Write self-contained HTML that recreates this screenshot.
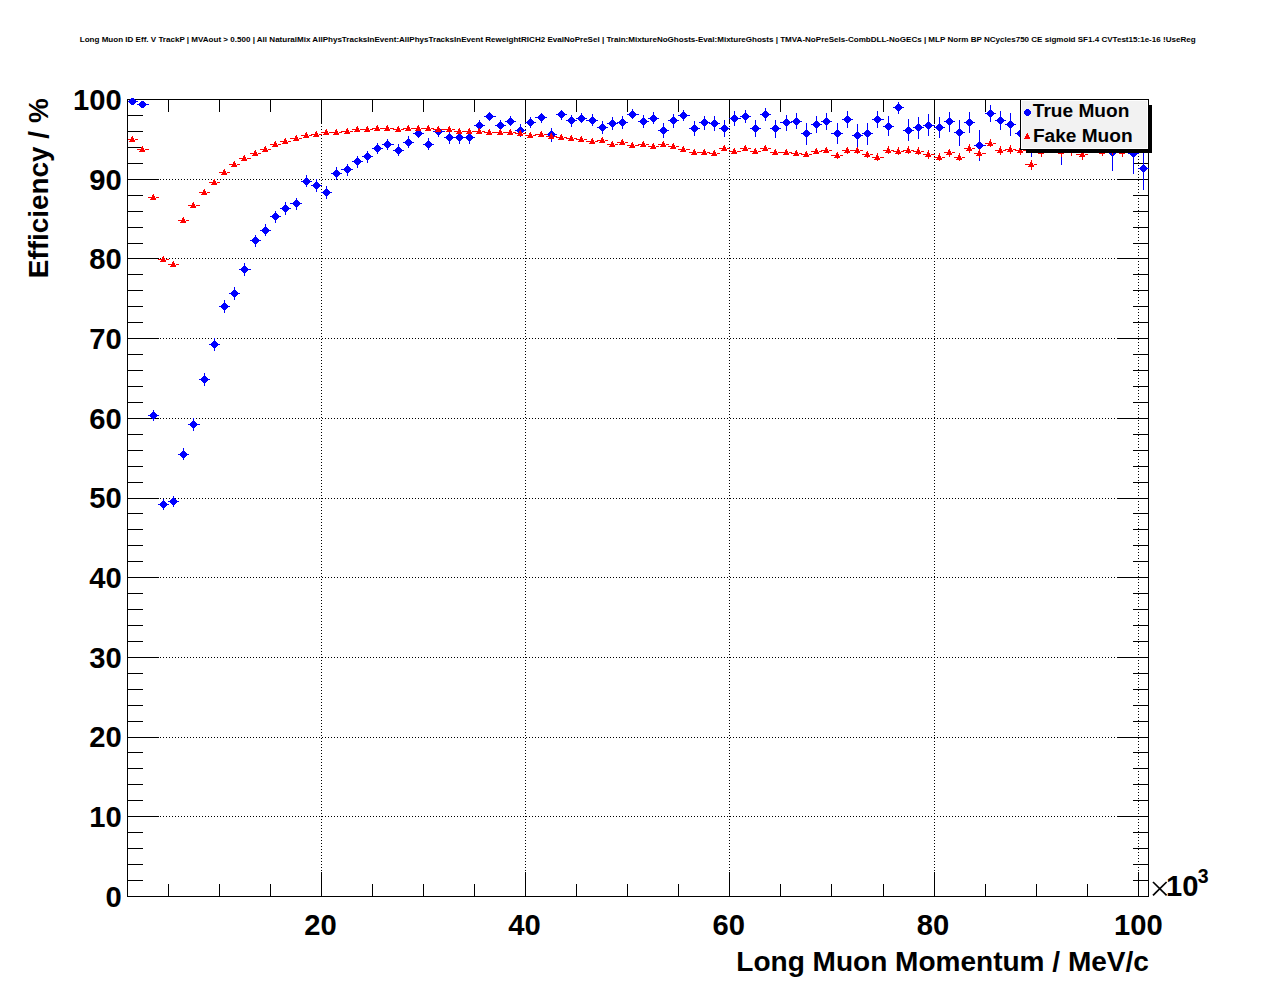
<!DOCTYPE html>
<html><head><meta charset="utf-8"><title>Long Muon ID Eff. V TrackP</title>
<style>html,body{margin:0;padding:0;background:#fff;}body{width:1276px;height:996px;overflow:hidden;font-family:"Liberation Sans",sans-serif;}svg{display:block;}text{font-family:"Liberation Sans",sans-serif;font-weight:bold;fill:#000;}</style></head><body>
<svg width="1276" height="996" viewBox="0 0 1276 996" role="img" aria-label="Efficiency versus Long Muon Momentum for True Muon and Fake Muon">
<rect x="0" y="0" width="1276" height="996" fill="#ffffff"/>
<g shape-rendering="crispEdges" stroke="#000" stroke-width="1" stroke-dasharray="1 2" fill="none">
<line x1="321.5" y1="99" x2="321.5" y2="897"/>
<line x1="525.5" y1="99" x2="525.5" y2="897"/>
<line x1="729.5" y1="99" x2="729.5" y2="897"/>
<line x1="934.5" y1="99" x2="934.5" y2="897"/>
<line x1="1138.5" y1="99" x2="1138.5" y2="897"/>
<line x1="127" y1="816.5" x2="1149" y2="816.5"/>
<line x1="127" y1="737.5" x2="1149" y2="737.5"/>
<line x1="127" y1="657.5" x2="1149" y2="657.5"/>
<line x1="127" y1="577.5" x2="1149" y2="577.5"/>
<line x1="127" y1="498.5" x2="1149" y2="498.5"/>
<line x1="127" y1="418.5" x2="1149" y2="418.5"/>
<line x1="127" y1="338.5" x2="1149" y2="338.5"/>
<line x1="127" y1="258.5" x2="1149" y2="258.5"/>
<line x1="127" y1="179.5" x2="1149" y2="179.5"/>
</g>
<g shape-rendering="crispEdges" fill="#000">
<rect x="127" y="99" width="1022" height="1"/>
<rect x="127" y="896" width="1022" height="1"/>
<rect x="127" y="99" width="1" height="798"/>
<rect x="1148" y="99" width="1" height="798"/>
<rect x="168" y="884" width="1" height="12"/>
<rect x="168" y="100" width="1" height="12"/>
<rect x="219" y="884" width="1" height="12"/>
<rect x="219" y="100" width="1" height="12"/>
<rect x="270" y="884" width="1" height="12"/>
<rect x="270" y="100" width="1" height="12"/>
<rect x="321" y="872" width="1" height="24"/>
<rect x="321" y="100" width="1" height="24"/>
<rect x="372" y="884" width="1" height="12"/>
<rect x="372" y="100" width="1" height="12"/>
<rect x="423" y="884" width="1" height="12"/>
<rect x="423" y="100" width="1" height="12"/>
<rect x="474" y="884" width="1" height="12"/>
<rect x="474" y="100" width="1" height="12"/>
<rect x="525" y="872" width="1" height="24"/>
<rect x="525" y="100" width="1" height="24"/>
<rect x="576" y="884" width="1" height="12"/>
<rect x="576" y="100" width="1" height="12"/>
<rect x="627" y="884" width="1" height="12"/>
<rect x="627" y="100" width="1" height="12"/>
<rect x="678" y="884" width="1" height="12"/>
<rect x="678" y="100" width="1" height="12"/>
<rect x="729" y="872" width="1" height="24"/>
<rect x="729" y="100" width="1" height="24"/>
<rect x="780" y="884" width="1" height="12"/>
<rect x="780" y="100" width="1" height="12"/>
<rect x="831" y="884" width="1" height="12"/>
<rect x="831" y="100" width="1" height="12"/>
<rect x="883" y="884" width="1" height="12"/>
<rect x="883" y="100" width="1" height="12"/>
<rect x="934" y="872" width="1" height="24"/>
<rect x="934" y="100" width="1" height="24"/>
<rect x="985" y="884" width="1" height="12"/>
<rect x="985" y="100" width="1" height="12"/>
<rect x="1036" y="884" width="1" height="12"/>
<rect x="1036" y="100" width="1" height="12"/>
<rect x="1087" y="884" width="1" height="12"/>
<rect x="1087" y="100" width="1" height="12"/>
<rect x="1138" y="872" width="1" height="24"/>
<rect x="1138" y="100" width="1" height="24"/>
<rect x="128" y="880" width="15" height="1"/>
<rect x="1133" y="880" width="15" height="1"/>
<rect x="128" y="864" width="15" height="1"/>
<rect x="1133" y="864" width="15" height="1"/>
<rect x="128" y="848" width="15" height="1"/>
<rect x="1133" y="848" width="15" height="1"/>
<rect x="128" y="832" width="15" height="1"/>
<rect x="1133" y="832" width="15" height="1"/>
<rect x="128" y="816" width="31" height="1"/>
<rect x="1117" y="816" width="31" height="1"/>
<rect x="128" y="800" width="15" height="1"/>
<rect x="1133" y="800" width="15" height="1"/>
<rect x="128" y="784" width="15" height="1"/>
<rect x="1133" y="784" width="15" height="1"/>
<rect x="128" y="768" width="15" height="1"/>
<rect x="1133" y="768" width="15" height="1"/>
<rect x="128" y="752" width="15" height="1"/>
<rect x="1133" y="752" width="15" height="1"/>
<rect x="128" y="737" width="31" height="1"/>
<rect x="1117" y="737" width="31" height="1"/>
<rect x="128" y="721" width="15" height="1"/>
<rect x="1133" y="721" width="15" height="1"/>
<rect x="128" y="705" width="15" height="1"/>
<rect x="1133" y="705" width="15" height="1"/>
<rect x="128" y="689" width="15" height="1"/>
<rect x="1133" y="689" width="15" height="1"/>
<rect x="128" y="673" width="15" height="1"/>
<rect x="1133" y="673" width="15" height="1"/>
<rect x="128" y="657" width="31" height="1"/>
<rect x="1117" y="657" width="31" height="1"/>
<rect x="128" y="641" width="15" height="1"/>
<rect x="1133" y="641" width="15" height="1"/>
<rect x="128" y="625" width="15" height="1"/>
<rect x="1133" y="625" width="15" height="1"/>
<rect x="128" y="609" width="15" height="1"/>
<rect x="1133" y="609" width="15" height="1"/>
<rect x="128" y="593" width="15" height="1"/>
<rect x="1133" y="593" width="15" height="1"/>
<rect x="128" y="577" width="31" height="1"/>
<rect x="1117" y="577" width="31" height="1"/>
<rect x="128" y="561" width="15" height="1"/>
<rect x="1133" y="561" width="15" height="1"/>
<rect x="128" y="545" width="15" height="1"/>
<rect x="1133" y="545" width="15" height="1"/>
<rect x="128" y="529" width="15" height="1"/>
<rect x="1133" y="529" width="15" height="1"/>
<rect x="128" y="513" width="15" height="1"/>
<rect x="1133" y="513" width="15" height="1"/>
<rect x="128" y="498" width="31" height="1"/>
<rect x="1117" y="498" width="31" height="1"/>
<rect x="128" y="482" width="15" height="1"/>
<rect x="1133" y="482" width="15" height="1"/>
<rect x="128" y="466" width="15" height="1"/>
<rect x="1133" y="466" width="15" height="1"/>
<rect x="128" y="450" width="15" height="1"/>
<rect x="1133" y="450" width="15" height="1"/>
<rect x="128" y="434" width="15" height="1"/>
<rect x="1133" y="434" width="15" height="1"/>
<rect x="128" y="418" width="31" height="1"/>
<rect x="1117" y="418" width="31" height="1"/>
<rect x="128" y="402" width="15" height="1"/>
<rect x="1133" y="402" width="15" height="1"/>
<rect x="128" y="386" width="15" height="1"/>
<rect x="1133" y="386" width="15" height="1"/>
<rect x="128" y="370" width="15" height="1"/>
<rect x="1133" y="370" width="15" height="1"/>
<rect x="128" y="354" width="15" height="1"/>
<rect x="1133" y="354" width="15" height="1"/>
<rect x="128" y="338" width="31" height="1"/>
<rect x="1117" y="338" width="31" height="1"/>
<rect x="128" y="322" width="15" height="1"/>
<rect x="1133" y="322" width="15" height="1"/>
<rect x="128" y="306" width="15" height="1"/>
<rect x="1133" y="306" width="15" height="1"/>
<rect x="128" y="290" width="15" height="1"/>
<rect x="1133" y="290" width="15" height="1"/>
<rect x="128" y="274" width="15" height="1"/>
<rect x="1133" y="274" width="15" height="1"/>
<rect x="128" y="258" width="31" height="1"/>
<rect x="1117" y="258" width="31" height="1"/>
<rect x="128" y="243" width="15" height="1"/>
<rect x="1133" y="243" width="15" height="1"/>
<rect x="128" y="227" width="15" height="1"/>
<rect x="1133" y="227" width="15" height="1"/>
<rect x="128" y="211" width="15" height="1"/>
<rect x="1133" y="211" width="15" height="1"/>
<rect x="128" y="195" width="15" height="1"/>
<rect x="1133" y="195" width="15" height="1"/>
<rect x="128" y="179" width="31" height="1"/>
<rect x="1117" y="179" width="31" height="1"/>
<rect x="128" y="163" width="15" height="1"/>
<rect x="1133" y="163" width="15" height="1"/>
<rect x="128" y="147" width="15" height="1"/>
<rect x="1133" y="147" width="15" height="1"/>
<rect x="128" y="131" width="15" height="1"/>
<rect x="1133" y="131" width="15" height="1"/>
<rect x="128" y="115" width="15" height="1"/>
<rect x="1133" y="115" width="15" height="1"/>
</g>
<g shape-rendering="crispEdges" fill="#0000ff">
<rect x="128" y="101" width="10" height="1"/><rect x="131" y="98" width="3" height="7"/><rect x="130" y="99" width="5" height="5"/><rect x="129" y="100" width="7" height="3"/>
<rect x="137" y="104" width="12" height="1"/><rect x="141" y="101" width="3" height="7"/><rect x="140" y="102" width="5" height="5"/><rect x="139" y="103" width="7" height="3"/>
<rect x="148" y="415" width="11" height="1"/><rect x="153" y="410" width="1" height="11"/><rect x="152" y="412" width="3" height="7"/><rect x="151" y="413" width="5" height="5"/><rect x="150" y="414" width="7" height="3"/>
<rect x="158" y="504" width="11" height="1"/><rect x="163" y="499" width="1" height="11"/><rect x="162" y="501" width="3" height="7"/><rect x="161" y="502" width="5" height="5"/><rect x="160" y="503" width="7" height="3"/>
<rect x="168" y="501" width="11" height="1"/><rect x="173" y="496" width="1" height="11"/><rect x="172" y="498" width="3" height="7"/><rect x="171" y="499" width="5" height="5"/><rect x="170" y="500" width="7" height="3"/>
<rect x="178" y="454" width="11" height="1"/><rect x="183" y="448" width="1" height="12"/><rect x="182" y="451" width="3" height="7"/><rect x="181" y="452" width="5" height="5"/><rect x="180" y="453" width="7" height="3"/>
<rect x="188" y="424" width="12" height="1"/><rect x="193" y="418" width="1" height="13"/><rect x="192" y="421" width="3" height="7"/><rect x="191" y="422" width="5" height="5"/><rect x="190" y="423" width="7" height="3"/>
<rect x="199" y="379" width="11" height="1"/><rect x="204" y="373" width="1" height="13"/><rect x="203" y="376" width="3" height="7"/><rect x="202" y="377" width="5" height="5"/><rect x="201" y="378" width="7" height="3"/>
<rect x="209" y="344" width="11" height="1"/><rect x="214" y="338" width="1" height="13"/><rect x="213" y="341" width="3" height="7"/><rect x="212" y="342" width="5" height="5"/><rect x="211" y="343" width="7" height="3"/>
<rect x="219" y="306" width="11" height="1"/><rect x="224" y="300" width="1" height="13"/><rect x="223" y="303" width="3" height="7"/><rect x="222" y="304" width="5" height="5"/><rect x="221" y="305" width="7" height="3"/>
<rect x="229" y="293" width="11" height="1"/><rect x="234" y="287" width="1" height="13"/><rect x="233" y="290" width="3" height="7"/><rect x="232" y="291" width="5" height="5"/><rect x="231" y="292" width="7" height="3"/>
<rect x="239" y="269" width="12" height="1"/><rect x="244" y="263" width="1" height="13"/><rect x="243" y="266" width="3" height="7"/><rect x="242" y="267" width="5" height="5"/><rect x="241" y="268" width="7" height="3"/>
<rect x="250" y="240" width="11" height="1"/><rect x="255" y="235" width="1" height="12"/><rect x="254" y="237" width="3" height="7"/><rect x="253" y="238" width="5" height="5"/><rect x="252" y="239" width="7" height="3"/>
<rect x="260" y="230" width="11" height="1"/><rect x="265" y="224" width="1" height="12"/><rect x="264" y="227" width="3" height="7"/><rect x="263" y="228" width="5" height="5"/><rect x="262" y="229" width="7" height="3"/>
<rect x="270" y="216" width="11" height="1"/><rect x="275" y="211" width="1" height="12"/><rect x="274" y="213" width="3" height="7"/><rect x="273" y="214" width="5" height="5"/><rect x="272" y="215" width="7" height="3"/>
<rect x="280" y="208" width="11" height="1"/><rect x="285" y="202" width="1" height="13"/><rect x="284" y="205" width="3" height="7"/><rect x="283" y="206" width="5" height="5"/><rect x="282" y="207" width="7" height="3"/>
<rect x="290" y="203" width="12" height="1"/><rect x="296" y="198" width="1" height="12"/><rect x="295" y="200" width="3" height="7"/><rect x="294" y="201" width="5" height="5"/><rect x="293" y="202" width="7" height="3"/>
<rect x="301" y="181" width="11" height="1"/><rect x="306" y="175" width="1" height="12"/><rect x="305" y="178" width="3" height="7"/><rect x="304" y="179" width="5" height="5"/><rect x="303" y="180" width="7" height="3"/>
<rect x="311" y="185" width="11" height="1"/><rect x="316" y="179" width="1" height="13"/><rect x="315" y="182" width="3" height="7"/><rect x="314" y="183" width="5" height="5"/><rect x="313" y="184" width="7" height="3"/>
<rect x="321" y="192" width="11" height="1"/><rect x="326" y="186" width="1" height="13"/><rect x="325" y="189" width="3" height="7"/><rect x="324" y="190" width="5" height="5"/><rect x="323" y="191" width="7" height="3"/>
<rect x="331" y="173" width="11" height="1"/><rect x="336" y="167" width="1" height="13"/><rect x="335" y="170" width="3" height="7"/><rect x="334" y="171" width="5" height="5"/><rect x="333" y="172" width="7" height="3"/>
<rect x="341" y="169" width="12" height="1"/><rect x="347" y="164" width="1" height="12"/><rect x="346" y="166" width="3" height="7"/><rect x="345" y="167" width="5" height="5"/><rect x="344" y="168" width="7" height="3"/>
<rect x="352" y="161" width="11" height="1"/><rect x="357" y="156" width="1" height="12"/><rect x="356" y="158" width="3" height="7"/><rect x="355" y="159" width="5" height="5"/><rect x="354" y="160" width="7" height="3"/>
<rect x="362" y="156" width="11" height="1"/><rect x="367" y="151" width="1" height="12"/><rect x="366" y="153" width="3" height="7"/><rect x="365" y="154" width="5" height="5"/><rect x="364" y="155" width="7" height="3"/>
<rect x="372" y="148" width="11" height="1"/><rect x="377" y="143" width="1" height="11"/><rect x="376" y="145" width="3" height="7"/><rect x="375" y="146" width="5" height="5"/><rect x="374" y="147" width="7" height="3"/>
<rect x="382" y="144" width="12" height="1"/><rect x="387" y="139" width="1" height="11"/><rect x="386" y="141" width="3" height="7"/><rect x="385" y="142" width="5" height="5"/><rect x="384" y="143" width="7" height="3"/>
<rect x="393" y="150" width="11" height="1"/><rect x="398" y="144" width="1" height="12"/><rect x="397" y="147" width="3" height="7"/><rect x="396" y="148" width="5" height="5"/><rect x="395" y="149" width="7" height="3"/>
<rect x="403" y="142" width="11" height="1"/><rect x="408" y="136" width="1" height="12"/><rect x="407" y="139" width="3" height="7"/><rect x="406" y="140" width="5" height="5"/><rect x="405" y="141" width="7" height="3"/>
<rect x="413" y="133" width="11" height="1"/><rect x="418" y="129" width="1" height="9"/><rect x="417" y="130" width="3" height="7"/><rect x="416" y="131" width="5" height="5"/><rect x="415" y="132" width="7" height="3"/>
<rect x="423" y="144" width="11" height="1"/><rect x="428" y="138" width="1" height="12"/><rect x="427" y="141" width="3" height="7"/><rect x="426" y="142" width="5" height="5"/><rect x="425" y="143" width="7" height="3"/>
<rect x="433" y="131" width="12" height="1"/><rect x="438" y="126" width="1" height="11"/><rect x="437" y="128" width="3" height="7"/><rect x="436" y="129" width="5" height="5"/><rect x="435" y="130" width="7" height="3"/>
<rect x="444" y="137" width="11" height="1"/><rect x="449" y="131" width="1" height="13"/><rect x="448" y="134" width="3" height="7"/><rect x="447" y="135" width="5" height="5"/><rect x="446" y="136" width="7" height="3"/>
<rect x="454" y="137" width="11" height="1"/><rect x="459" y="131" width="1" height="13"/><rect x="458" y="134" width="3" height="7"/><rect x="457" y="135" width="5" height="5"/><rect x="456" y="136" width="7" height="3"/>
<rect x="464" y="137" width="11" height="1"/><rect x="469" y="131" width="1" height="13"/><rect x="468" y="134" width="3" height="7"/><rect x="467" y="135" width="5" height="5"/><rect x="466" y="136" width="7" height="3"/>
<rect x="474" y="125" width="11" height="1"/><rect x="479" y="120" width="1" height="11"/><rect x="478" y="122" width="3" height="7"/><rect x="477" y="123" width="5" height="5"/><rect x="476" y="124" width="7" height="3"/>
<rect x="484" y="116" width="12" height="1"/><rect x="489" y="112" width="1" height="9"/><rect x="488" y="113" width="3" height="7"/><rect x="487" y="114" width="5" height="5"/><rect x="486" y="115" width="7" height="3"/>
<rect x="495" y="125" width="11" height="1"/><rect x="500" y="120" width="1" height="11"/><rect x="499" y="122" width="3" height="7"/><rect x="498" y="123" width="5" height="5"/><rect x="497" y="124" width="7" height="3"/>
<rect x="505" y="121" width="11" height="1"/><rect x="510" y="116" width="1" height="10"/><rect x="509" y="118" width="3" height="7"/><rect x="508" y="119" width="5" height="5"/><rect x="507" y="120" width="7" height="3"/>
<rect x="515" y="130" width="11" height="1"/><rect x="520" y="124" width="1" height="13"/><rect x="519" y="127" width="3" height="7"/><rect x="518" y="128" width="5" height="5"/><rect x="517" y="129" width="7" height="3"/>
<rect x="525" y="122" width="11" height="1"/><rect x="530" y="117" width="1" height="11"/><rect x="529" y="119" width="3" height="7"/><rect x="528" y="120" width="5" height="5"/><rect x="527" y="121" width="7" height="3"/>
<rect x="535" y="117" width="12" height="1"/><rect x="541" y="113" width="1" height="10"/><rect x="540" y="114" width="3" height="7"/><rect x="539" y="115" width="5" height="5"/><rect x="538" y="116" width="7" height="3"/>
<rect x="546" y="134" width="11" height="1"/><rect x="551" y="128" width="1" height="14"/><rect x="550" y="131" width="3" height="7"/><rect x="549" y="132" width="5" height="5"/><rect x="548" y="133" width="7" height="3"/>
<rect x="556" y="114" width="11" height="1"/><rect x="561" y="110" width="1" height="10"/><rect x="560" y="111" width="3" height="7"/><rect x="559" y="112" width="5" height="5"/><rect x="558" y="113" width="7" height="3"/>
<rect x="566" y="120" width="11" height="1"/><rect x="571" y="115" width="1" height="12"/><rect x="570" y="117" width="3" height="7"/><rect x="569" y="118" width="5" height="5"/><rect x="568" y="119" width="7" height="3"/>
<rect x="576" y="118" width="11" height="1"/><rect x="581" y="113" width="1" height="10"/><rect x="580" y="115" width="3" height="7"/><rect x="579" y="116" width="5" height="5"/><rect x="578" y="117" width="7" height="3"/>
<rect x="586" y="120" width="12" height="1"/><rect x="592" y="114" width="1" height="12"/><rect x="591" y="117" width="3" height="7"/><rect x="590" y="118" width="5" height="5"/><rect x="589" y="119" width="7" height="3"/>
<rect x="597" y="127" width="11" height="1"/><rect x="602" y="121" width="1" height="13"/><rect x="601" y="124" width="3" height="7"/><rect x="600" y="125" width="5" height="5"/><rect x="599" y="126" width="7" height="3"/>
<rect x="607" y="123" width="11" height="1"/><rect x="612" y="117" width="1" height="13"/><rect x="611" y="120" width="3" height="7"/><rect x="610" y="121" width="5" height="5"/><rect x="609" y="122" width="7" height="3"/>
<rect x="617" y="122" width="11" height="1"/><rect x="622" y="116" width="1" height="13"/><rect x="621" y="119" width="3" height="7"/><rect x="620" y="120" width="5" height="5"/><rect x="619" y="121" width="7" height="3"/>
<rect x="627" y="114" width="12" height="1"/><rect x="632" y="109" width="1" height="10"/><rect x="631" y="111" width="3" height="7"/><rect x="630" y="112" width="5" height="5"/><rect x="629" y="113" width="7" height="3"/>
<rect x="638" y="121" width="11" height="1"/><rect x="643" y="115" width="1" height="13"/><rect x="642" y="118" width="3" height="7"/><rect x="641" y="119" width="5" height="5"/><rect x="640" y="120" width="7" height="3"/>
<rect x="648" y="118" width="11" height="1"/><rect x="653" y="112" width="1" height="12"/><rect x="652" y="115" width="3" height="7"/><rect x="651" y="116" width="5" height="5"/><rect x="650" y="117" width="7" height="3"/>
<rect x="658" y="130" width="11" height="1"/><rect x="663" y="123" width="1" height="15"/><rect x="662" y="127" width="3" height="7"/><rect x="661" y="128" width="5" height="5"/><rect x="660" y="129" width="7" height="3"/>
<rect x="668" y="120" width="11" height="1"/><rect x="673" y="114" width="1" height="14"/><rect x="672" y="117" width="3" height="7"/><rect x="671" y="118" width="5" height="5"/><rect x="670" y="119" width="7" height="3"/>
<rect x="678" y="115" width="12" height="1"/><rect x="683" y="110" width="1" height="11"/><rect x="682" y="112" width="3" height="7"/><rect x="681" y="113" width="5" height="5"/><rect x="680" y="114" width="7" height="3"/>
<rect x="689" y="128" width="11" height="1"/><rect x="694" y="121" width="1" height="15"/><rect x="693" y="125" width="3" height="7"/><rect x="692" y="126" width="5" height="5"/><rect x="691" y="127" width="7" height="3"/>
<rect x="699" y="122" width="11" height="1"/><rect x="704" y="116" width="1" height="14"/><rect x="703" y="119" width="3" height="7"/><rect x="702" y="120" width="5" height="5"/><rect x="701" y="121" width="7" height="3"/>
<rect x="709" y="123" width="11" height="1"/><rect x="714" y="116" width="1" height="15"/><rect x="713" y="120" width="3" height="7"/><rect x="712" y="121" width="5" height="5"/><rect x="711" y="122" width="7" height="3"/>
<rect x="719" y="128" width="11" height="1"/><rect x="724" y="120" width="1" height="17"/><rect x="723" y="125" width="3" height="7"/><rect x="722" y="126" width="5" height="5"/><rect x="721" y="127" width="7" height="3"/>
<rect x="729" y="118" width="12" height="1"/><rect x="734" y="111" width="1" height="15"/><rect x="733" y="115" width="3" height="7"/><rect x="732" y="116" width="5" height="5"/><rect x="731" y="117" width="7" height="3"/>
<rect x="740" y="116" width="11" height="1"/><rect x="745" y="110" width="1" height="13"/><rect x="744" y="113" width="3" height="7"/><rect x="743" y="114" width="5" height="5"/><rect x="742" y="115" width="7" height="3"/>
<rect x="750" y="128" width="11" height="1"/><rect x="755" y="120" width="1" height="17"/><rect x="754" y="125" width="3" height="7"/><rect x="753" y="126" width="5" height="5"/><rect x="752" y="127" width="7" height="3"/>
<rect x="760" y="114" width="11" height="1"/><rect x="765" y="108" width="1" height="13"/><rect x="764" y="111" width="3" height="7"/><rect x="763" y="112" width="5" height="5"/><rect x="762" y="113" width="7" height="3"/>
<rect x="770" y="128" width="11" height="1"/><rect x="775" y="120" width="1" height="18"/><rect x="774" y="125" width="3" height="7"/><rect x="773" y="126" width="5" height="5"/><rect x="772" y="127" width="7" height="3"/>
<rect x="780" y="122" width="12" height="1"/><rect x="786" y="115" width="1" height="16"/><rect x="785" y="119" width="3" height="7"/><rect x="784" y="120" width="5" height="5"/><rect x="783" y="121" width="7" height="3"/>
<rect x="791" y="121" width="11" height="1"/><rect x="796" y="113" width="1" height="16"/><rect x="795" y="118" width="3" height="7"/><rect x="794" y="119" width="5" height="5"/><rect x="793" y="120" width="7" height="3"/>
<rect x="801" y="133" width="11" height="1"/><rect x="806" y="123" width="1" height="22"/><rect x="805" y="130" width="3" height="7"/><rect x="804" y="131" width="5" height="5"/><rect x="803" y="132" width="7" height="3"/>
<rect x="811" y="124" width="11" height="1"/><rect x="816" y="116" width="1" height="17"/><rect x="815" y="121" width="3" height="7"/><rect x="814" y="122" width="5" height="5"/><rect x="813" y="123" width="7" height="3"/>
<rect x="821" y="121" width="11" height="1"/><rect x="826" y="113" width="1" height="17"/><rect x="825" y="118" width="3" height="7"/><rect x="824" y="119" width="5" height="5"/><rect x="823" y="120" width="7" height="3"/>
<rect x="831" y="133" width="12" height="1"/><rect x="837" y="123" width="1" height="21"/><rect x="836" y="130" width="3" height="7"/><rect x="835" y="131" width="5" height="5"/><rect x="834" y="132" width="7" height="3"/>
<rect x="842" y="119" width="11" height="1"/><rect x="847" y="111" width="1" height="17"/><rect x="846" y="116" width="3" height="7"/><rect x="845" y="117" width="5" height="5"/><rect x="844" y="118" width="7" height="3"/>
<rect x="852" y="135" width="11" height="1"/><rect x="857" y="124" width="1" height="23"/><rect x="856" y="132" width="3" height="7"/><rect x="855" y="133" width="5" height="5"/><rect x="854" y="134" width="7" height="3"/>
<rect x="862" y="133" width="11" height="1"/><rect x="867" y="123" width="1" height="22"/><rect x="866" y="130" width="3" height="7"/><rect x="865" y="131" width="5" height="5"/><rect x="864" y="132" width="7" height="3"/>
<rect x="872" y="119" width="12" height="1"/><rect x="877" y="111" width="1" height="17"/><rect x="876" y="116" width="3" height="7"/><rect x="875" y="117" width="5" height="5"/><rect x="874" y="118" width="7" height="3"/>
<rect x="883" y="126" width="11" height="1"/><rect x="888" y="116" width="1" height="20"/><rect x="887" y="123" width="3" height="7"/><rect x="886" y="124" width="5" height="5"/><rect x="885" y="125" width="7" height="3"/>
<rect x="893" y="107" width="11" height="1"/><rect x="898" y="102" width="1" height="12"/><rect x="897" y="104" width="3" height="7"/><rect x="896" y="105" width="5" height="5"/><rect x="895" y="106" width="7" height="3"/>
<rect x="903" y="130" width="11" height="1"/><rect x="908" y="119" width="1" height="22"/><rect x="907" y="127" width="3" height="7"/><rect x="906" y="128" width="5" height="5"/><rect x="905" y="129" width="7" height="3"/>
<rect x="913" y="127" width="11" height="1"/><rect x="918" y="117" width="1" height="22"/><rect x="917" y="124" width="3" height="7"/><rect x="916" y="125" width="5" height="5"/><rect x="915" y="126" width="7" height="3"/>
<rect x="923" y="125" width="12" height="1"/><rect x="928" y="114" width="1" height="22"/><rect x="927" y="122" width="3" height="7"/><rect x="926" y="123" width="5" height="5"/><rect x="925" y="124" width="7" height="3"/>
<rect x="934" y="127" width="11" height="1"/><rect x="939" y="117" width="1" height="21"/><rect x="938" y="124" width="3" height="7"/><rect x="937" y="125" width="5" height="5"/><rect x="936" y="126" width="7" height="3"/>
<rect x="944" y="121" width="11" height="1"/><rect x="949" y="112" width="1" height="20"/><rect x="948" y="118" width="3" height="7"/><rect x="947" y="119" width="5" height="5"/><rect x="946" y="120" width="7" height="3"/>
<rect x="954" y="132" width="11" height="1"/><rect x="959" y="120" width="1" height="26"/><rect x="958" y="129" width="3" height="7"/><rect x="957" y="130" width="5" height="5"/><rect x="956" y="131" width="7" height="3"/>
<rect x="964" y="122" width="11" height="1"/><rect x="969" y="112" width="1" height="21"/><rect x="968" y="119" width="3" height="7"/><rect x="967" y="120" width="5" height="5"/><rect x="966" y="121" width="7" height="3"/>
<rect x="974" y="145" width="12" height="1"/><rect x="979" y="130" width="1" height="31"/><rect x="978" y="142" width="3" height="7"/><rect x="977" y="143" width="5" height="5"/><rect x="976" y="144" width="7" height="3"/>
<rect x="985" y="113" width="11" height="1"/><rect x="990" y="105" width="1" height="17"/><rect x="989" y="110" width="3" height="7"/><rect x="988" y="111" width="5" height="5"/><rect x="987" y="112" width="7" height="3"/>
<rect x="995" y="120" width="11" height="1"/><rect x="1000" y="111" width="1" height="19"/><rect x="999" y="117" width="3" height="7"/><rect x="998" y="118" width="5" height="5"/><rect x="997" y="119" width="7" height="3"/>
<rect x="1005" y="124" width="11" height="1"/><rect x="1010" y="113" width="1" height="23"/><rect x="1009" y="121" width="3" height="7"/><rect x="1008" y="122" width="5" height="5"/><rect x="1007" y="123" width="7" height="3"/>
<rect x="1015" y="133" width="11" height="1"/><rect x="1020" y="119" width="1" height="29"/><rect x="1019" y="130" width="3" height="7"/><rect x="1018" y="131" width="5" height="5"/><rect x="1017" y="132" width="7" height="3"/>
<rect x="1025" y="142" width="12" height="1"/><rect x="1031" y="128" width="1" height="29"/><rect x="1030" y="139" width="3" height="7"/><rect x="1029" y="140" width="5" height="5"/><rect x="1028" y="141" width="7" height="3"/>
<rect x="1036" y="119" width="11" height="1"/><rect x="1041" y="108" width="1" height="23"/><rect x="1040" y="116" width="3" height="7"/><rect x="1039" y="117" width="5" height="5"/><rect x="1038" y="118" width="7" height="3"/>
<rect x="1046" y="119" width="11" height="1"/><rect x="1051" y="108" width="1" height="23"/><rect x="1050" y="116" width="3" height="7"/><rect x="1049" y="117" width="5" height="5"/><rect x="1048" y="118" width="7" height="3"/>
<rect x="1056" y="147" width="11" height="1"/><rect x="1061" y="130" width="1" height="35"/><rect x="1060" y="144" width="3" height="7"/><rect x="1059" y="145" width="5" height="5"/><rect x="1058" y="146" width="7" height="3"/>
<rect x="1066" y="119" width="11" height="1"/><rect x="1071" y="108" width="1" height="23"/><rect x="1070" y="116" width="3" height="7"/><rect x="1069" y="117" width="5" height="5"/><rect x="1068" y="118" width="7" height="3"/>
<rect x="1076" y="119" width="12" height="1"/><rect x="1082" y="108" width="1" height="24"/><rect x="1081" y="116" width="3" height="7"/><rect x="1080" y="117" width="5" height="5"/><rect x="1079" y="118" width="7" height="3"/>
<rect x="1087" y="119" width="11" height="1"/><rect x="1092" y="107" width="1" height="25"/><rect x="1091" y="116" width="3" height="7"/><rect x="1090" y="117" width="5" height="5"/><rect x="1089" y="118" width="7" height="3"/>
<rect x="1097" y="119" width="11" height="1"/><rect x="1102" y="107" width="1" height="25"/><rect x="1101" y="116" width="3" height="7"/><rect x="1100" y="117" width="5" height="5"/><rect x="1099" y="118" width="7" height="3"/>
<rect x="1107" y="152" width="11" height="1"/><rect x="1112" y="134" width="1" height="37"/><rect x="1111" y="149" width="3" height="7"/><rect x="1110" y="150" width="5" height="5"/><rect x="1109" y="151" width="7" height="3"/>
<rect x="1117" y="119" width="12" height="1"/><rect x="1122" y="107" width="1" height="25"/><rect x="1121" y="116" width="3" height="7"/><rect x="1120" y="117" width="5" height="5"/><rect x="1119" y="118" width="7" height="3"/>
<rect x="1128" y="153" width="11" height="1"/><rect x="1133" y="133" width="1" height="41"/><rect x="1132" y="150" width="3" height="7"/><rect x="1131" y="151" width="5" height="5"/><rect x="1130" y="152" width="7" height="3"/>
<rect x="1138" y="168" width="11" height="1"/><rect x="1143" y="147" width="1" height="43"/><rect x="1142" y="165" width="3" height="7"/><rect x="1141" y="166" width="5" height="5"/><rect x="1140" y="167" width="7" height="3"/>
</g>
<g shape-rendering="crispEdges" fill="#ff0000">
<rect x="128" y="139" width="2" height="1"/><rect x="135" y="139" width="3" height="1"/><rect x="132" y="136" width="1" height="1"/><rect x="131" y="137" width="2" height="1"/><rect x="131" y="138" width="3" height="1"/><rect x="130" y="139" width="4" height="1"/><rect x="130" y="140" width="5" height="1"/><rect x="129" y="141" width="6" height="1"/>
<rect x="137" y="149" width="3" height="1"/><rect x="145" y="149" width="4" height="1"/><rect x="142" y="146" width="1" height="1"/><rect x="141" y="147" width="2" height="1"/><rect x="141" y="148" width="3" height="1"/><rect x="140" y="149" width="4" height="1"/><rect x="140" y="150" width="5" height="1"/><rect x="139" y="151" width="6" height="1"/>
<rect x="148" y="197" width="3" height="1"/><rect x="156" y="197" width="3" height="1"/><rect x="153" y="194" width="1" height="1"/><rect x="152" y="195" width="2" height="1"/><rect x="152" y="196" width="3" height="1"/><rect x="151" y="197" width="4" height="1"/><rect x="151" y="198" width="5" height="1"/><rect x="150" y="199" width="6" height="1"/>
<rect x="158" y="259" width="3" height="1"/><rect x="166" y="259" width="3" height="1"/><rect x="163" y="256" width="1" height="1"/><rect x="162" y="257" width="2" height="1"/><rect x="162" y="258" width="3" height="1"/><rect x="161" y="259" width="4" height="1"/><rect x="161" y="260" width="5" height="1"/><rect x="160" y="261" width="6" height="1"/>
<rect x="168" y="264" width="3" height="1"/><rect x="176" y="264" width="3" height="1"/><rect x="173" y="261" width="1" height="1"/><rect x="172" y="262" width="2" height="1"/><rect x="172" y="263" width="3" height="1"/><rect x="171" y="264" width="4" height="1"/><rect x="171" y="265" width="5" height="1"/><rect x="170" y="266" width="6" height="1"/>
<rect x="178" y="220" width="3" height="1"/><rect x="186" y="220" width="3" height="1"/><rect x="183" y="217" width="1" height="1"/><rect x="182" y="218" width="2" height="1"/><rect x="182" y="219" width="3" height="1"/><rect x="181" y="220" width="4" height="1"/><rect x="181" y="221" width="5" height="1"/><rect x="180" y="222" width="6" height="1"/>
<rect x="188" y="205" width="3" height="1"/><rect x="196" y="205" width="4" height="1"/><rect x="193" y="202" width="1" height="1"/><rect x="192" y="203" width="2" height="1"/><rect x="192" y="204" width="3" height="1"/><rect x="191" y="205" width="4" height="1"/><rect x="191" y="206" width="5" height="1"/><rect x="190" y="207" width="6" height="1"/>
<rect x="199" y="192" width="3" height="1"/><rect x="207" y="192" width="3" height="1"/><rect x="204" y="189" width="1" height="1"/><rect x="203" y="190" width="2" height="1"/><rect x="203" y="191" width="3" height="1"/><rect x="202" y="192" width="4" height="1"/><rect x="202" y="193" width="5" height="1"/><rect x="201" y="194" width="6" height="1"/>
<rect x="209" y="182" width="3" height="1"/><rect x="217" y="182" width="3" height="1"/><rect x="214" y="179" width="1" height="1"/><rect x="213" y="180" width="2" height="1"/><rect x="213" y="181" width="3" height="1"/><rect x="212" y="182" width="4" height="1"/><rect x="212" y="183" width="5" height="1"/><rect x="211" y="184" width="6" height="1"/>
<rect x="219" y="172" width="3" height="1"/><rect x="227" y="172" width="3" height="1"/><rect x="224" y="169" width="1" height="1"/><rect x="223" y="170" width="2" height="1"/><rect x="223" y="171" width="3" height="1"/><rect x="222" y="172" width="4" height="1"/><rect x="222" y="173" width="5" height="1"/><rect x="221" y="174" width="6" height="1"/>
<rect x="229" y="164" width="3" height="1"/><rect x="237" y="164" width="3" height="1"/><rect x="234" y="161" width="1" height="1"/><rect x="233" y="162" width="2" height="1"/><rect x="233" y="163" width="3" height="1"/><rect x="232" y="164" width="4" height="1"/><rect x="232" y="165" width="5" height="1"/><rect x="231" y="166" width="6" height="1"/>
<rect x="239" y="158" width="3" height="1"/><rect x="247" y="158" width="4" height="1"/><rect x="244" y="155" width="1" height="1"/><rect x="243" y="156" width="2" height="1"/><rect x="243" y="157" width="3" height="1"/><rect x="242" y="158" width="4" height="1"/><rect x="242" y="159" width="5" height="1"/><rect x="241" y="160" width="6" height="1"/>
<rect x="250" y="153" width="3" height="1"/><rect x="258" y="153" width="3" height="1"/><rect x="255" y="150" width="1" height="1"/><rect x="254" y="151" width="2" height="1"/><rect x="254" y="152" width="3" height="1"/><rect x="253" y="153" width="4" height="1"/><rect x="253" y="154" width="5" height="1"/><rect x="252" y="155" width="6" height="1"/>
<rect x="260" y="149" width="3" height="1"/><rect x="268" y="149" width="3" height="1"/><rect x="265" y="146" width="1" height="1"/><rect x="264" y="147" width="2" height="1"/><rect x="264" y="148" width="3" height="1"/><rect x="263" y="149" width="4" height="1"/><rect x="263" y="150" width="5" height="1"/><rect x="262" y="151" width="6" height="1"/>
<rect x="270" y="144" width="3" height="1"/><rect x="278" y="144" width="3" height="1"/><rect x="275" y="141" width="1" height="1"/><rect x="274" y="142" width="2" height="1"/><rect x="274" y="143" width="3" height="1"/><rect x="273" y="144" width="4" height="1"/><rect x="273" y="145" width="5" height="1"/><rect x="272" y="146" width="6" height="1"/>
<rect x="280" y="141" width="3" height="1"/><rect x="288" y="141" width="3" height="1"/><rect x="285" y="138" width="1" height="1"/><rect x="284" y="139" width="2" height="1"/><rect x="284" y="140" width="3" height="1"/><rect x="283" y="141" width="4" height="1"/><rect x="283" y="142" width="5" height="1"/><rect x="282" y="143" width="6" height="1"/>
<rect x="290" y="138" width="4" height="1"/><rect x="299" y="138" width="3" height="1"/><rect x="296" y="135" width="1" height="1"/><rect x="295" y="136" width="2" height="1"/><rect x="295" y="137" width="3" height="1"/><rect x="294" y="138" width="4" height="1"/><rect x="294" y="139" width="5" height="1"/><rect x="293" y="140" width="6" height="1"/>
<rect x="301" y="135" width="3" height="1"/><rect x="309" y="135" width="3" height="1"/><rect x="306" y="132" width="1" height="1"/><rect x="305" y="133" width="2" height="1"/><rect x="305" y="134" width="3" height="1"/><rect x="304" y="135" width="4" height="1"/><rect x="304" y="136" width="5" height="1"/><rect x="303" y="137" width="6" height="1"/>
<rect x="311" y="134" width="3" height="1"/><rect x="319" y="134" width="3" height="1"/><rect x="316" y="131" width="1" height="1"/><rect x="315" y="132" width="2" height="1"/><rect x="315" y="133" width="3" height="1"/><rect x="314" y="134" width="4" height="1"/><rect x="314" y="135" width="5" height="1"/><rect x="313" y="136" width="6" height="1"/>
<rect x="321" y="132" width="3" height="1"/><rect x="329" y="132" width="3" height="1"/><rect x="326" y="129" width="1" height="1"/><rect x="325" y="130" width="2" height="1"/><rect x="325" y="131" width="3" height="1"/><rect x="324" y="132" width="4" height="1"/><rect x="324" y="133" width="5" height="1"/><rect x="323" y="134" width="6" height="1"/>
<rect x="331" y="132" width="3" height="1"/><rect x="339" y="132" width="3" height="1"/><rect x="336" y="129" width="1" height="1"/><rect x="335" y="130" width="2" height="1"/><rect x="335" y="131" width="3" height="1"/><rect x="334" y="132" width="4" height="1"/><rect x="334" y="133" width="5" height="1"/><rect x="333" y="134" width="6" height="1"/>
<rect x="341" y="131" width="4" height="1"/><rect x="350" y="131" width="3" height="1"/><rect x="347" y="128" width="1" height="1"/><rect x="346" y="129" width="2" height="1"/><rect x="346" y="130" width="3" height="1"/><rect x="345" y="131" width="4" height="1"/><rect x="345" y="132" width="5" height="1"/><rect x="344" y="133" width="6" height="1"/>
<rect x="352" y="129" width="3" height="1"/><rect x="360" y="129" width="3" height="1"/><rect x="357" y="126" width="1" height="1"/><rect x="356" y="127" width="2" height="1"/><rect x="356" y="128" width="3" height="1"/><rect x="355" y="129" width="4" height="1"/><rect x="355" y="130" width="5" height="1"/><rect x="354" y="131" width="6" height="1"/>
<rect x="362" y="129" width="3" height="1"/><rect x="370" y="129" width="3" height="1"/><rect x="367" y="126" width="1" height="1"/><rect x="366" y="127" width="2" height="1"/><rect x="366" y="128" width="3" height="1"/><rect x="365" y="129" width="4" height="1"/><rect x="365" y="130" width="5" height="1"/><rect x="364" y="131" width="6" height="1"/>
<rect x="372" y="128" width="3" height="1"/><rect x="380" y="128" width="3" height="1"/><rect x="377" y="125" width="1" height="1"/><rect x="376" y="126" width="2" height="1"/><rect x="376" y="127" width="3" height="1"/><rect x="375" y="128" width="4" height="1"/><rect x="375" y="129" width="5" height="1"/><rect x="374" y="130" width="6" height="1"/>
<rect x="382" y="128" width="3" height="1"/><rect x="390" y="128" width="4" height="1"/><rect x="387" y="125" width="1" height="1"/><rect x="386" y="126" width="2" height="1"/><rect x="386" y="127" width="3" height="1"/><rect x="385" y="128" width="4" height="1"/><rect x="385" y="129" width="5" height="1"/><rect x="384" y="130" width="6" height="1"/>
<rect x="393" y="129" width="3" height="1"/><rect x="401" y="129" width="3" height="1"/><rect x="398" y="126" width="1" height="1"/><rect x="397" y="127" width="2" height="1"/><rect x="397" y="128" width="3" height="1"/><rect x="396" y="129" width="4" height="1"/><rect x="396" y="130" width="5" height="1"/><rect x="395" y="131" width="6" height="1"/>
<rect x="403" y="128" width="3" height="1"/><rect x="411" y="128" width="3" height="1"/><rect x="408" y="125" width="1" height="1"/><rect x="407" y="126" width="2" height="1"/><rect x="407" y="127" width="3" height="1"/><rect x="406" y="128" width="4" height="1"/><rect x="406" y="129" width="5" height="1"/><rect x="405" y="130" width="6" height="1"/>
<rect x="413" y="128" width="3" height="1"/><rect x="421" y="128" width="3" height="1"/><rect x="418" y="125" width="1" height="1"/><rect x="417" y="126" width="2" height="1"/><rect x="417" y="127" width="3" height="1"/><rect x="416" y="128" width="4" height="1"/><rect x="416" y="129" width="5" height="1"/><rect x="415" y="130" width="6" height="1"/>
<rect x="423" y="128" width="3" height="1"/><rect x="431" y="128" width="3" height="1"/><rect x="428" y="125" width="1" height="1"/><rect x="427" y="126" width="2" height="1"/><rect x="427" y="127" width="3" height="1"/><rect x="426" y="128" width="4" height="1"/><rect x="426" y="129" width="5" height="1"/><rect x="425" y="130" width="6" height="1"/>
<rect x="433" y="129" width="3" height="1"/><rect x="441" y="129" width="4" height="1"/><rect x="438" y="126" width="1" height="1"/><rect x="437" y="127" width="2" height="1"/><rect x="437" y="128" width="3" height="1"/><rect x="436" y="129" width="4" height="1"/><rect x="436" y="130" width="5" height="1"/><rect x="435" y="131" width="6" height="1"/>
<rect x="444" y="129" width="3" height="1"/><rect x="452" y="129" width="3" height="1"/><rect x="449" y="126" width="1" height="1"/><rect x="448" y="127" width="2" height="1"/><rect x="448" y="128" width="3" height="1"/><rect x="447" y="129" width="4" height="1"/><rect x="447" y="130" width="5" height="1"/><rect x="446" y="131" width="6" height="1"/>
<rect x="454" y="131" width="3" height="1"/><rect x="462" y="131" width="3" height="1"/><rect x="459" y="128" width="1" height="1"/><rect x="458" y="129" width="2" height="1"/><rect x="458" y="130" width="3" height="1"/><rect x="457" y="131" width="4" height="1"/><rect x="457" y="132" width="5" height="1"/><rect x="456" y="133" width="6" height="1"/>
<rect x="464" y="131" width="3" height="1"/><rect x="472" y="131" width="3" height="1"/><rect x="469" y="128" width="1" height="1"/><rect x="468" y="129" width="2" height="1"/><rect x="468" y="130" width="3" height="1"/><rect x="467" y="131" width="4" height="1"/><rect x="467" y="132" width="5" height="1"/><rect x="466" y="133" width="6" height="1"/>
<rect x="474" y="131" width="3" height="1"/><rect x="482" y="131" width="3" height="1"/><rect x="479" y="128" width="1" height="1"/><rect x="478" y="129" width="2" height="1"/><rect x="478" y="130" width="3" height="1"/><rect x="477" y="131" width="4" height="1"/><rect x="477" y="132" width="5" height="1"/><rect x="476" y="133" width="6" height="1"/>
<rect x="484" y="132" width="3" height="1"/><rect x="492" y="132" width="4" height="1"/><rect x="489" y="129" width="1" height="1"/><rect x="488" y="130" width="2" height="1"/><rect x="488" y="131" width="3" height="1"/><rect x="487" y="132" width="4" height="1"/><rect x="487" y="133" width="5" height="1"/><rect x="486" y="134" width="6" height="1"/>
<rect x="495" y="132" width="3" height="1"/><rect x="503" y="132" width="3" height="1"/><rect x="500" y="129" width="1" height="1"/><rect x="499" y="130" width="2" height="1"/><rect x="499" y="131" width="3" height="1"/><rect x="498" y="132" width="4" height="1"/><rect x="498" y="133" width="5" height="1"/><rect x="497" y="134" width="6" height="1"/>
<rect x="505" y="132" width="3" height="1"/><rect x="513" y="132" width="3" height="1"/><rect x="510" y="129" width="1" height="1"/><rect x="509" y="130" width="2" height="1"/><rect x="509" y="131" width="3" height="1"/><rect x="508" y="132" width="4" height="1"/><rect x="508" y="133" width="5" height="1"/><rect x="507" y="134" width="6" height="1"/>
<rect x="515" y="133" width="3" height="1"/><rect x="523" y="133" width="3" height="1"/><rect x="520" y="130" width="1" height="1"/><rect x="519" y="131" width="2" height="1"/><rect x="519" y="132" width="3" height="1"/><rect x="518" y="133" width="4" height="1"/><rect x="518" y="134" width="5" height="1"/><rect x="517" y="135" width="6" height="1"/>
<rect x="525" y="135" width="3" height="1"/><rect x="533" y="135" width="3" height="1"/><rect x="530" y="132" width="1" height="1"/><rect x="529" y="133" width="2" height="1"/><rect x="529" y="134" width="3" height="1"/><rect x="528" y="135" width="4" height="1"/><rect x="528" y="136" width="5" height="1"/><rect x="527" y="137" width="6" height="1"/>
<rect x="535" y="134" width="4" height="1"/><rect x="544" y="134" width="3" height="1"/><rect x="541" y="131" width="1" height="1"/><rect x="540" y="132" width="2" height="1"/><rect x="540" y="133" width="3" height="1"/><rect x="539" y="134" width="4" height="1"/><rect x="539" y="135" width="5" height="1"/><rect x="538" y="136" width="6" height="1"/>
<rect x="546" y="136" width="3" height="1"/><rect x="554" y="136" width="3" height="1"/><rect x="551" y="133" width="1" height="1"/><rect x="550" y="134" width="2" height="1"/><rect x="550" y="135" width="3" height="1"/><rect x="549" y="136" width="4" height="1"/><rect x="549" y="137" width="5" height="1"/><rect x="548" y="138" width="6" height="1"/>
<rect x="556" y="137" width="3" height="1"/><rect x="564" y="137" width="3" height="1"/><rect x="561" y="134" width="1" height="1"/><rect x="560" y="135" width="2" height="1"/><rect x="560" y="136" width="3" height="1"/><rect x="559" y="137" width="4" height="1"/><rect x="559" y="138" width="5" height="1"/><rect x="558" y="139" width="6" height="1"/>
<rect x="566" y="138" width="3" height="1"/><rect x="574" y="138" width="3" height="1"/><rect x="571" y="135" width="1" height="1"/><rect x="570" y="136" width="2" height="1"/><rect x="570" y="137" width="3" height="1"/><rect x="569" y="138" width="4" height="1"/><rect x="569" y="139" width="5" height="1"/><rect x="568" y="140" width="6" height="1"/>
<rect x="576" y="139" width="3" height="1"/><rect x="584" y="139" width="3" height="1"/><rect x="581" y="136" width="1" height="1"/><rect x="580" y="137" width="2" height="1"/><rect x="580" y="138" width="3" height="1"/><rect x="579" y="139" width="4" height="1"/><rect x="579" y="140" width="5" height="1"/><rect x="578" y="141" width="6" height="1"/>
<rect x="586" y="141" width="4" height="1"/><rect x="595" y="141" width="3" height="1"/><rect x="592" y="138" width="1" height="1"/><rect x="591" y="139" width="2" height="1"/><rect x="591" y="140" width="3" height="1"/><rect x="590" y="141" width="4" height="1"/><rect x="590" y="142" width="5" height="1"/><rect x="589" y="143" width="6" height="1"/>
<rect x="597" y="140" width="3" height="1"/><rect x="605" y="140" width="3" height="1"/><rect x="602" y="137" width="1" height="1"/><rect x="601" y="138" width="2" height="1"/><rect x="601" y="139" width="3" height="1"/><rect x="600" y="140" width="4" height="1"/><rect x="600" y="141" width="5" height="1"/><rect x="599" y="142" width="6" height="1"/>
<rect x="607" y="144" width="3" height="1"/><rect x="615" y="144" width="3" height="1"/><rect x="612" y="141" width="1" height="1"/><rect x="611" y="142" width="2" height="1"/><rect x="611" y="143" width="3" height="1"/><rect x="610" y="144" width="4" height="1"/><rect x="610" y="145" width="5" height="1"/><rect x="609" y="146" width="6" height="1"/>
<rect x="617" y="142" width="3" height="1"/><rect x="625" y="142" width="3" height="1"/><rect x="622" y="139" width="1" height="1"/><rect x="621" y="140" width="2" height="1"/><rect x="621" y="141" width="3" height="1"/><rect x="620" y="142" width="4" height="1"/><rect x="620" y="143" width="5" height="1"/><rect x="619" y="144" width="6" height="1"/>
<rect x="627" y="145" width="3" height="1"/><rect x="635" y="145" width="4" height="1"/><rect x="632" y="142" width="1" height="1"/><rect x="631" y="143" width="2" height="1"/><rect x="631" y="144" width="3" height="1"/><rect x="630" y="145" width="4" height="1"/><rect x="630" y="146" width="5" height="1"/><rect x="629" y="147" width="6" height="1"/>
<rect x="638" y="144" width="3" height="1"/><rect x="646" y="144" width="3" height="1"/><rect x="643" y="141" width="1" height="1"/><rect x="642" y="142" width="2" height="1"/><rect x="642" y="143" width="3" height="1"/><rect x="641" y="144" width="4" height="1"/><rect x="641" y="145" width="5" height="1"/><rect x="640" y="146" width="6" height="1"/>
<rect x="648" y="146" width="3" height="1"/><rect x="656" y="146" width="3" height="1"/><rect x="653" y="143" width="1" height="1"/><rect x="652" y="144" width="2" height="1"/><rect x="652" y="145" width="3" height="1"/><rect x="651" y="146" width="4" height="1"/><rect x="651" y="147" width="5" height="1"/><rect x="650" y="148" width="6" height="1"/>
<rect x="658" y="144" width="3" height="1"/><rect x="666" y="144" width="3" height="1"/><rect x="663" y="141" width="1" height="1"/><rect x="662" y="142" width="2" height="1"/><rect x="662" y="143" width="3" height="1"/><rect x="661" y="144" width="4" height="1"/><rect x="661" y="145" width="5" height="1"/><rect x="660" y="146" width="6" height="1"/>
<rect x="668" y="146" width="3" height="1"/><rect x="676" y="146" width="3" height="1"/><rect x="673" y="143" width="1" height="1"/><rect x="672" y="144" width="2" height="1"/><rect x="672" y="145" width="3" height="1"/><rect x="671" y="146" width="4" height="1"/><rect x="671" y="147" width="5" height="1"/><rect x="670" y="148" width="6" height="1"/>
<rect x="678" y="149" width="3" height="1"/><rect x="686" y="149" width="4" height="1"/><rect x="683" y="146" width="1" height="1"/><rect x="682" y="147" width="2" height="1"/><rect x="682" y="148" width="3" height="1"/><rect x="681" y="149" width="4" height="1"/><rect x="681" y="150" width="5" height="1"/><rect x="680" y="151" width="6" height="1"/>
<rect x="689" y="152" width="3" height="1"/><rect x="697" y="152" width="3" height="1"/><rect x="694" y="149" width="1" height="1"/><rect x="693" y="150" width="2" height="1"/><rect x="693" y="151" width="3" height="1"/><rect x="692" y="152" width="4" height="1"/><rect x="692" y="153" width="5" height="1"/><rect x="691" y="154" width="6" height="1"/>
<rect x="699" y="152" width="3" height="1"/><rect x="707" y="152" width="3" height="1"/><rect x="704" y="149" width="1" height="1"/><rect x="703" y="150" width="2" height="1"/><rect x="703" y="151" width="3" height="1"/><rect x="702" y="152" width="4" height="1"/><rect x="702" y="153" width="5" height="1"/><rect x="701" y="154" width="6" height="1"/>
<rect x="709" y="153" width="3" height="1"/><rect x="717" y="153" width="3" height="1"/><rect x="714" y="150" width="1" height="1"/><rect x="713" y="151" width="2" height="1"/><rect x="713" y="152" width="3" height="1"/><rect x="712" y="153" width="4" height="1"/><rect x="712" y="154" width="5" height="1"/><rect x="711" y="155" width="6" height="1"/>
<rect x="719" y="148" width="3" height="1"/><rect x="727" y="148" width="3" height="1"/><rect x="724" y="145" width="1" height="1"/><rect x="723" y="146" width="2" height="1"/><rect x="723" y="147" width="3" height="1"/><rect x="722" y="148" width="4" height="1"/><rect x="722" y="149" width="5" height="1"/><rect x="721" y="150" width="6" height="1"/>
<rect x="729" y="151" width="3" height="1"/><rect x="737" y="151" width="4" height="1"/><rect x="734" y="148" width="1" height="1"/><rect x="733" y="149" width="2" height="1"/><rect x="733" y="150" width="3" height="1"/><rect x="732" y="151" width="4" height="1"/><rect x="732" y="152" width="5" height="1"/><rect x="731" y="153" width="6" height="1"/>
<rect x="740" y="148" width="3" height="1"/><rect x="748" y="148" width="3" height="1"/><rect x="745" y="145" width="1" height="1"/><rect x="744" y="146" width="2" height="1"/><rect x="744" y="147" width="3" height="1"/><rect x="743" y="148" width="4" height="1"/><rect x="743" y="149" width="5" height="1"/><rect x="742" y="150" width="6" height="1"/>
<rect x="750" y="151" width="3" height="1"/><rect x="758" y="151" width="3" height="1"/><rect x="755" y="148" width="1" height="1"/><rect x="754" y="149" width="2" height="1"/><rect x="754" y="150" width="3" height="1"/><rect x="753" y="151" width="4" height="1"/><rect x="753" y="152" width="5" height="1"/><rect x="752" y="153" width="6" height="1"/>
<rect x="760" y="148" width="3" height="1"/><rect x="768" y="148" width="3" height="1"/><rect x="765" y="145" width="1" height="1"/><rect x="764" y="146" width="2" height="1"/><rect x="764" y="147" width="3" height="1"/><rect x="763" y="148" width="4" height="1"/><rect x="763" y="149" width="5" height="1"/><rect x="762" y="150" width="6" height="1"/>
<rect x="770" y="152" width="3" height="1"/><rect x="778" y="152" width="3" height="1"/><rect x="775" y="149" width="1" height="1"/><rect x="774" y="150" width="2" height="1"/><rect x="774" y="151" width="3" height="1"/><rect x="773" y="152" width="4" height="1"/><rect x="773" y="153" width="5" height="1"/><rect x="772" y="154" width="6" height="1"/>
<rect x="780" y="152" width="4" height="1"/><rect x="789" y="152" width="3" height="1"/><rect x="786" y="149" width="1" height="1"/><rect x="785" y="150" width="2" height="1"/><rect x="785" y="151" width="3" height="1"/><rect x="784" y="152" width="4" height="1"/><rect x="784" y="153" width="5" height="1"/><rect x="783" y="154" width="6" height="1"/>
<rect x="791" y="153" width="3" height="1"/><rect x="799" y="153" width="3" height="1"/><rect x="796" y="150" width="1" height="1"/><rect x="795" y="151" width="2" height="1"/><rect x="795" y="152" width="3" height="1"/><rect x="794" y="153" width="4" height="1"/><rect x="794" y="154" width="5" height="1"/><rect x="793" y="155" width="6" height="1"/>
<rect x="801" y="154" width="3" height="1"/><rect x="809" y="154" width="3" height="1"/><rect x="806" y="151" width="1" height="1"/><rect x="805" y="152" width="2" height="1"/><rect x="805" y="153" width="3" height="1"/><rect x="804" y="154" width="4" height="1"/><rect x="804" y="155" width="5" height="1"/><rect x="803" y="156" width="6" height="1"/>
<rect x="811" y="151" width="3" height="1"/><rect x="819" y="151" width="3" height="1"/><rect x="816" y="148" width="1" height="1"/><rect x="815" y="149" width="2" height="1"/><rect x="815" y="150" width="3" height="1"/><rect x="814" y="151" width="4" height="1"/><rect x="814" y="152" width="5" height="1"/><rect x="813" y="153" width="6" height="1"/>
<rect x="821" y="150" width="3" height="1"/><rect x="829" y="150" width="3" height="1"/><rect x="826" y="147" width="1" height="1"/><rect x="825" y="148" width="2" height="1"/><rect x="825" y="149" width="3" height="1"/><rect x="824" y="150" width="4" height="1"/><rect x="824" y="151" width="5" height="1"/><rect x="823" y="152" width="6" height="1"/>
<rect x="831" y="155" width="4" height="1"/><rect x="840" y="155" width="3" height="1"/><rect x="837" y="152" width="1" height="7"/><rect x="837" y="152" width="1" height="1"/><rect x="836" y="153" width="2" height="1"/><rect x="836" y="154" width="3" height="1"/><rect x="835" y="155" width="4" height="1"/><rect x="835" y="156" width="5" height="1"/><rect x="834" y="157" width="6" height="1"/>
<rect x="842" y="150" width="3" height="1"/><rect x="850" y="150" width="3" height="1"/><rect x="847" y="147" width="1" height="7"/><rect x="847" y="147" width="1" height="1"/><rect x="846" y="148" width="2" height="1"/><rect x="846" y="149" width="3" height="1"/><rect x="845" y="150" width="4" height="1"/><rect x="845" y="151" width="5" height="1"/><rect x="844" y="152" width="6" height="1"/>
<rect x="852" y="150" width="3" height="1"/><rect x="860" y="150" width="3" height="1"/><rect x="857" y="147" width="1" height="7"/><rect x="857" y="147" width="1" height="1"/><rect x="856" y="148" width="2" height="1"/><rect x="856" y="149" width="3" height="1"/><rect x="855" y="150" width="4" height="1"/><rect x="855" y="151" width="5" height="1"/><rect x="854" y="152" width="6" height="1"/>
<rect x="862" y="154" width="3" height="1"/><rect x="870" y="154" width="3" height="1"/><rect x="867" y="151" width="1" height="7"/><rect x="867" y="151" width="1" height="1"/><rect x="866" y="152" width="2" height="1"/><rect x="866" y="153" width="3" height="1"/><rect x="865" y="154" width="4" height="1"/><rect x="865" y="155" width="5" height="1"/><rect x="864" y="156" width="6" height="1"/>
<rect x="872" y="157" width="3" height="1"/><rect x="880" y="157" width="4" height="1"/><rect x="877" y="153" width="1" height="8"/><rect x="877" y="154" width="1" height="1"/><rect x="876" y="155" width="2" height="1"/><rect x="876" y="156" width="3" height="1"/><rect x="875" y="157" width="4" height="1"/><rect x="875" y="158" width="5" height="1"/><rect x="874" y="159" width="6" height="1"/>
<rect x="883" y="150" width="3" height="1"/><rect x="891" y="150" width="3" height="1"/><rect x="888" y="146" width="1" height="8"/><rect x="888" y="147" width="1" height="1"/><rect x="887" y="148" width="2" height="1"/><rect x="887" y="149" width="3" height="1"/><rect x="886" y="150" width="4" height="1"/><rect x="886" y="151" width="5" height="1"/><rect x="885" y="152" width="6" height="1"/>
<rect x="893" y="151" width="3" height="1"/><rect x="901" y="151" width="3" height="1"/><rect x="898" y="147" width="1" height="8"/><rect x="898" y="148" width="1" height="1"/><rect x="897" y="149" width="2" height="1"/><rect x="897" y="150" width="3" height="1"/><rect x="896" y="151" width="4" height="1"/><rect x="896" y="152" width="5" height="1"/><rect x="895" y="153" width="6" height="1"/>
<rect x="903" y="150" width="3" height="1"/><rect x="911" y="150" width="3" height="1"/><rect x="908" y="146" width="1" height="8"/><rect x="908" y="147" width="1" height="1"/><rect x="907" y="148" width="2" height="1"/><rect x="907" y="149" width="3" height="1"/><rect x="906" y="150" width="4" height="1"/><rect x="906" y="151" width="5" height="1"/><rect x="905" y="152" width="6" height="1"/>
<rect x="913" y="151" width="3" height="1"/><rect x="921" y="151" width="3" height="1"/><rect x="918" y="147" width="1" height="8"/><rect x="918" y="148" width="1" height="1"/><rect x="917" y="149" width="2" height="1"/><rect x="917" y="150" width="3" height="1"/><rect x="916" y="151" width="4" height="1"/><rect x="916" y="152" width="5" height="1"/><rect x="915" y="153" width="6" height="1"/>
<rect x="923" y="154" width="3" height="1"/><rect x="931" y="154" width="4" height="1"/><rect x="928" y="150" width="1" height="9"/><rect x="928" y="151" width="1" height="1"/><rect x="927" y="152" width="2" height="1"/><rect x="927" y="153" width="3" height="1"/><rect x="926" y="154" width="4" height="1"/><rect x="926" y="155" width="5" height="1"/><rect x="925" y="156" width="6" height="1"/>
<rect x="934" y="157" width="3" height="1"/><rect x="942" y="157" width="3" height="1"/><rect x="939" y="153" width="1" height="8"/><rect x="939" y="154" width="1" height="1"/><rect x="938" y="155" width="2" height="1"/><rect x="938" y="156" width="3" height="1"/><rect x="937" y="157" width="4" height="1"/><rect x="937" y="158" width="5" height="1"/><rect x="936" y="159" width="6" height="1"/>
<rect x="944" y="152" width="3" height="1"/><rect x="952" y="152" width="3" height="1"/><rect x="949" y="149" width="1" height="8"/><rect x="949" y="149" width="1" height="1"/><rect x="948" y="150" width="2" height="1"/><rect x="948" y="151" width="3" height="1"/><rect x="947" y="152" width="4" height="1"/><rect x="947" y="153" width="5" height="1"/><rect x="946" y="154" width="6" height="1"/>
<rect x="954" y="157" width="3" height="1"/><rect x="962" y="157" width="3" height="1"/><rect x="959" y="153" width="1" height="8"/><rect x="959" y="154" width="1" height="1"/><rect x="958" y="155" width="2" height="1"/><rect x="958" y="156" width="3" height="1"/><rect x="957" y="157" width="4" height="1"/><rect x="957" y="158" width="5" height="1"/><rect x="956" y="159" width="6" height="1"/>
<rect x="964" y="148" width="3" height="1"/><rect x="972" y="148" width="3" height="1"/><rect x="969" y="144" width="1" height="9"/><rect x="969" y="145" width="1" height="1"/><rect x="968" y="146" width="2" height="1"/><rect x="968" y="147" width="3" height="1"/><rect x="967" y="148" width="4" height="1"/><rect x="967" y="149" width="5" height="1"/><rect x="966" y="150" width="6" height="1"/>
<rect x="974" y="153" width="3" height="1"/><rect x="982" y="153" width="4" height="1"/><rect x="979" y="149" width="1" height="9"/><rect x="979" y="150" width="1" height="1"/><rect x="978" y="151" width="2" height="1"/><rect x="978" y="152" width="3" height="1"/><rect x="977" y="153" width="4" height="1"/><rect x="977" y="154" width="5" height="1"/><rect x="976" y="155" width="6" height="1"/>
<rect x="985" y="143" width="3" height="1"/><rect x="993" y="143" width="3" height="1"/><rect x="990" y="139" width="1" height="8"/><rect x="990" y="140" width="1" height="1"/><rect x="989" y="141" width="2" height="1"/><rect x="989" y="142" width="3" height="1"/><rect x="988" y="143" width="4" height="1"/><rect x="988" y="144" width="5" height="1"/><rect x="987" y="145" width="6" height="1"/>
<rect x="995" y="150" width="3" height="1"/><rect x="1003" y="150" width="3" height="1"/><rect x="1000" y="146" width="1" height="9"/><rect x="1000" y="147" width="1" height="1"/><rect x="999" y="148" width="2" height="1"/><rect x="999" y="149" width="3" height="1"/><rect x="998" y="150" width="4" height="1"/><rect x="998" y="151" width="5" height="1"/><rect x="997" y="152" width="6" height="1"/>
<rect x="1005" y="149" width="3" height="1"/><rect x="1013" y="149" width="3" height="1"/><rect x="1010" y="145" width="1" height="9"/><rect x="1010" y="146" width="1" height="1"/><rect x="1009" y="147" width="2" height="1"/><rect x="1009" y="148" width="3" height="1"/><rect x="1008" y="149" width="4" height="1"/><rect x="1008" y="150" width="5" height="1"/><rect x="1007" y="151" width="6" height="1"/>
<rect x="1015" y="150" width="3" height="1"/><rect x="1023" y="150" width="3" height="1"/><rect x="1020" y="146" width="1" height="9"/><rect x="1020" y="147" width="1" height="1"/><rect x="1019" y="148" width="2" height="1"/><rect x="1019" y="149" width="3" height="1"/><rect x="1018" y="150" width="4" height="1"/><rect x="1018" y="151" width="5" height="1"/><rect x="1017" y="152" width="6" height="1"/>
<rect x="1025" y="164" width="4" height="1"/><rect x="1034" y="164" width="3" height="1"/><rect x="1031" y="160" width="1" height="10"/><rect x="1031" y="161" width="1" height="1"/><rect x="1030" y="162" width="2" height="1"/><rect x="1030" y="163" width="3" height="1"/><rect x="1029" y="164" width="4" height="1"/><rect x="1029" y="165" width="5" height="1"/><rect x="1028" y="166" width="6" height="1"/>
<rect x="1036" y="151" width="3" height="1"/><rect x="1044" y="151" width="3" height="1"/><rect x="1041" y="147" width="1" height="10"/><rect x="1041" y="148" width="1" height="1"/><rect x="1040" y="149" width="2" height="1"/><rect x="1040" y="150" width="3" height="1"/><rect x="1039" y="151" width="4" height="1"/><rect x="1039" y="152" width="5" height="1"/><rect x="1038" y="153" width="6" height="1"/>
<rect x="1046" y="144" width="3" height="1"/><rect x="1054" y="144" width="3" height="1"/><rect x="1051" y="140" width="1" height="8"/><rect x="1051" y="141" width="1" height="1"/><rect x="1050" y="142" width="2" height="1"/><rect x="1050" y="143" width="3" height="1"/><rect x="1049" y="144" width="4" height="1"/><rect x="1049" y="145" width="5" height="1"/><rect x="1048" y="146" width="6" height="1"/>
<rect x="1056" y="151" width="3" height="1"/><rect x="1064" y="151" width="3" height="1"/><rect x="1061" y="147" width="1" height="10"/><rect x="1061" y="148" width="1" height="1"/><rect x="1060" y="149" width="2" height="1"/><rect x="1060" y="150" width="3" height="1"/><rect x="1059" y="151" width="4" height="1"/><rect x="1059" y="152" width="5" height="1"/><rect x="1058" y="153" width="6" height="1"/>
<rect x="1066" y="150" width="3" height="1"/><rect x="1074" y="150" width="3" height="1"/><rect x="1071" y="146" width="1" height="10"/><rect x="1071" y="147" width="1" height="1"/><rect x="1070" y="148" width="2" height="1"/><rect x="1070" y="149" width="3" height="1"/><rect x="1069" y="150" width="4" height="1"/><rect x="1069" y="151" width="5" height="1"/><rect x="1068" y="152" width="6" height="1"/>
<rect x="1076" y="154" width="4" height="1"/><rect x="1085" y="154" width="3" height="1"/><rect x="1082" y="150" width="1" height="10"/><rect x="1082" y="151" width="1" height="1"/><rect x="1081" y="152" width="2" height="1"/><rect x="1081" y="153" width="3" height="1"/><rect x="1080" y="154" width="4" height="1"/><rect x="1080" y="155" width="5" height="1"/><rect x="1079" y="156" width="6" height="1"/>
<rect x="1087" y="144" width="3" height="1"/><rect x="1095" y="144" width="3" height="1"/><rect x="1092" y="140" width="1" height="9"/><rect x="1092" y="141" width="1" height="1"/><rect x="1091" y="142" width="2" height="1"/><rect x="1091" y="143" width="3" height="1"/><rect x="1090" y="144" width="4" height="1"/><rect x="1090" y="145" width="5" height="1"/><rect x="1089" y="146" width="6" height="1"/>
<rect x="1097" y="151" width="3" height="1"/><rect x="1105" y="151" width="3" height="1"/><rect x="1102" y="147" width="1" height="9"/><rect x="1102" y="148" width="1" height="1"/><rect x="1101" y="149" width="2" height="1"/><rect x="1101" y="150" width="3" height="1"/><rect x="1100" y="151" width="4" height="1"/><rect x="1100" y="152" width="5" height="1"/><rect x="1099" y="153" width="6" height="1"/>
<rect x="1107" y="150" width="3" height="1"/><rect x="1115" y="150" width="3" height="1"/><rect x="1112" y="146" width="1" height="9"/><rect x="1112" y="147" width="1" height="1"/><rect x="1111" y="148" width="2" height="1"/><rect x="1111" y="149" width="3" height="1"/><rect x="1110" y="150" width="4" height="1"/><rect x="1110" y="151" width="5" height="1"/><rect x="1109" y="152" width="6" height="1"/>
<rect x="1117" y="151" width="3" height="1"/><rect x="1125" y="151" width="4" height="1"/><rect x="1122" y="147" width="1" height="10"/><rect x="1122" y="148" width="1" height="1"/><rect x="1121" y="149" width="2" height="1"/><rect x="1121" y="150" width="3" height="1"/><rect x="1120" y="151" width="4" height="1"/><rect x="1120" y="152" width="5" height="1"/><rect x="1119" y="153" width="6" height="1"/>
<rect x="1128" y="144" width="3" height="1"/><rect x="1136" y="144" width="3" height="1"/><rect x="1133" y="140" width="1" height="9"/><rect x="1133" y="141" width="1" height="1"/><rect x="1132" y="142" width="2" height="1"/><rect x="1132" y="143" width="3" height="1"/><rect x="1131" y="144" width="4" height="1"/><rect x="1131" y="145" width="5" height="1"/><rect x="1130" y="146" width="6" height="1"/>
<rect x="1138" y="144" width="3" height="1"/><rect x="1146" y="144" width="3" height="1"/><rect x="1143" y="140" width="1" height="9"/><rect x="1143" y="141" width="1" height="1"/><rect x="1142" y="142" width="2" height="1"/><rect x="1142" y="143" width="3" height="1"/><rect x="1141" y="144" width="4" height="1"/><rect x="1141" y="145" width="5" height="1"/><rect x="1140" y="146" width="6" height="1"/>
</g>
<g shape-rendering="crispEdges">
<rect x="1149" y="105" width="3" height="48" fill="#000"/>
<rect x="1026" y="150" width="126" height="3" fill="#000"/>
<rect x="1020" y="99" width="129" height="51" fill="#000"/>
<rect x="1021" y="100" width="127" height="49" fill="#fff"/>
<rect x="1022" y="101" width="125" height="47" fill="#f2f2f2"/>
<g fill="#0000ff"><rect x="1026" y="109" width="3" height="7"/><rect x="1025" y="110" width="5" height="5"/><rect x="1024" y="111" width="7" height="3"/></g>
<g fill="#ff0000"><rect x="1027" y="133" width="1" height="1"/><rect x="1026" y="134" width="2" height="1"/><rect x="1026" y="135" width="3" height="1"/><rect x="1025" y="136" width="4" height="1"/><rect x="1025" y="137" width="5" height="1"/><rect x="1024" y="138" width="6" height="1"/></g>
</g>
<g stroke="#000" stroke-width="1.7" stroke-linecap="butt">
<line x1="1153.0" y1="882.0" x2="1166.6" y2="895.4"/>
<line x1="1153.0" y1="895.4" x2="1166.6" y2="882.0"/>
</g>
<g stroke="none" style="font-family:'Liberation Sans',sans-serif;font-weight:bold">
<text x="79.8" y="41.9" font-size="8" textLength="1115.8" lengthAdjust="spacingAndGlyphs">Long Muon ID Eff. V TrackP | MVAout &gt; 0.500 | All NaturalMix AllPhysTracksInEvent:AllPhysTracksInEvent ReweightRICH2 EvalNoPreSel | Train:MixtureNoGhosts-Eval:MixtureGhosts | TMVA-NoPreSels-CombDLL-NoGECs | MLP Norm BP NCycles750 CE sigmoid SF1.4 CVTest15:1e-16 !UseReg</text>
<text x="121.8" y="906.8" font-size="29.2" text-anchor="end">0</text>
<text x="121.8" y="827.1" font-size="29.2" text-anchor="end">10</text>
<text x="121.8" y="747.4" font-size="29.2" text-anchor="end">20</text>
<text x="121.8" y="667.8" font-size="29.2" text-anchor="end">30</text>
<text x="121.8" y="588.1" font-size="29.2" text-anchor="end">40</text>
<text x="121.8" y="508.4" font-size="29.2" text-anchor="end">50</text>
<text x="121.8" y="428.7" font-size="29.2" text-anchor="end">60</text>
<text x="121.8" y="349.0" font-size="29.2" text-anchor="end">70</text>
<text x="121.8" y="269.4" font-size="29.2" text-anchor="end">80</text>
<text x="121.8" y="189.7" font-size="29.2" text-anchor="end">90</text>
<text x="121.8" y="110.0" font-size="29.2" text-anchor="end">100</text>
<text x="320.4" y="934.9" font-size="29.2" text-anchor="middle">20</text>
<text x="524.6" y="934.9" font-size="29.2" text-anchor="middle">40</text>
<text x="728.7" y="934.9" font-size="29.2" text-anchor="middle">60</text>
<text x="932.9" y="934.9" font-size="29.2" text-anchor="middle">80</text>
<text x="1138.4" y="934.9" font-size="29.2" text-anchor="middle">100</text>
<text x="1166.1" y="896.05" font-size="29.2">10</text>
<text x="1197.85" y="882.7" font-size="19.5">3</text>
<text x="736.3" y="970.7" font-size="28" textLength="412.6" lengthAdjust="spacingAndGlyphs">Long Muon Momentum / MeV/c</text>
<text transform="translate(48.1 276.4) rotate(-90)" x="-1.9" y="0" font-size="27.9" textLength="180" lengthAdjust="spacingAndGlyphs">Efficiency / %</text>
<text x="1032.8" y="116.6" font-size="19.1">True Muon</text>
<text x="1032.9" y="141.75" font-size="19.1">Fake Muon</text>
</g>
</svg></body></html>
